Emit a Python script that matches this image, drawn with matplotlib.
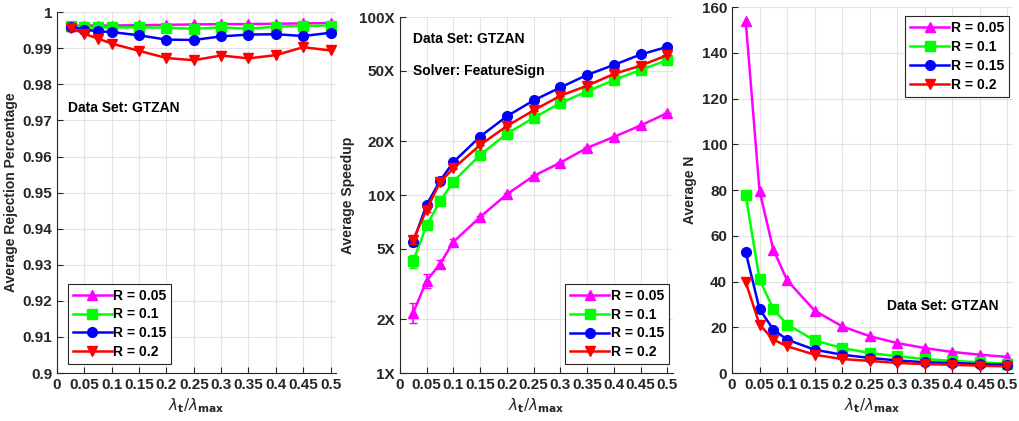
import numpy as np
import matplotlib
matplotlib.use("Agg")
import matplotlib.pyplot as plt

plt.rcParams['font.family'] = ['Liberation Sans', 'DejaVu Sans']
plt.rcParams['axes.labelweight'] = 'bold'
plt.rcParams['mathtext.fontset'] = 'dejavusans'

lam = [0.025, 0.05, 0.075, 0.1, 0.15, 0.2, 0.25, 0.3, 0.35, 0.4, 0.45, 0.5]
radios = ["R = 0.05", "R = 0.1", "R = 0.15", "R = 0.2"]
colores = ["#ff00ff", "#00ff00", "#0000ff", "#ff0000"]
marcadores = ["^", "s", "o", "v"]

# panel 1: rechazo promedio
rechazo_005 = [0.9962, 0.9963, 0.9963, 0.9963, 0.9964, 0.9965, 0.9966, 0.9967, 0.9967, 0.9968, 0.9969, 0.9970]
rechazo_01 = [0.9961, 0.9958, 0.9958, 0.9958, 0.9958, 0.9957, 0.9954, 0.9958, 0.9954, 0.9960, 0.9962, 0.9963]
rechazo_015 = [0.9959, 0.9952, 0.9947, 0.9945, 0.9936, 0.9924, 0.9923, 0.9933, 0.9938, 0.9939, 0.9934, 0.9943]
rechazo_02 = [0.9957, 0.9940, 0.9927, 0.9913, 0.9893, 0.9873, 0.9867, 0.9880, 0.9872, 0.9881, 0.9903, 0.9894]

# panel 2: aceleracion promedio
acel_005 = [2.18, 3.30, 4.09, 5.45, 7.52, 10.1, 12.8, 15.2, 18.4, 21.2, 24.6, 28.9]
acel_01 = [4.25, 6.76, 9.2, 11.9, 16.8, 22.1, 27.1, 32.9, 38.2, 44.3, 50.4, 57.3]
acel_015 = [5.45, 8.8, 12.0, 15.3, 21.3, 27.7, 34.0, 40.2, 47.3, 53.8, 61.6, 68.0]
acel_02 = [5.62, 8.27, 11.8, 14.1, 19.1, 24.4, 29.9, 36.1, 41.1, 47.9, 53.3, 61.1]
err_005 = [0.28, 0.30, 0.22, 0.20, 0.15, 0.12, 0.1, 0.1, 0.1, 0.1, 0.1, 0.1]
err_01 = [0.35, 0.25, 0.2, 0.15, 0.1, 0.1, 0.1, 0.1, 0.1, 0.1, 0.1, 0.1]
err_015 = [0.3, 0.2, 0.15, 0.1, 0.1, 0.1, 0.1, 0.1, 0.1, 0.1, 0.1, 0.1]
err_02 = [0.3, 0.2, 0.15, 0.1, 0.1, 0.1, 0.1, 0.1, 0.1, 0.1, 0.1, 0.1]

# panel 3: N promedio
n_005 = [153.9, 79.7, 54.0, 40.6, 27.3, 20.4, 16.1, 13.1, 10.9, 9.2, 8.0, 7.0]
n_01 = [77.8, 40.9, 28.0, 21.2, 14.3, 10.9, 8.8, 7.3, 6.1, 5.3, 4.7, 4.1]
n_015 = [52.8, 28.0, 19.0, 14.6, 10.2, 8.0, 6.6, 5.5, 4.7, 4.4, 3.9, 3.6]
n_02 = [39.7, 21.2, 14.6, 11.7, 8.0, 6.1, 5.3, 4.4, 3.9, 3.6, 3.2, 2.9]

xticks = [0, 0.05, 0.1, 0.15, 0.2, 0.25, 0.3, 0.35, 0.4, 0.45, 0.5]
xticklabels = ["0", "0.05", "0.1", "0.15", "0.2", "0.25", "0.3", "0.35", "0.4", "0.45", "0.5"]
gris = "#262626"
xlabel = r"$\lambda_{\mathbf{t}}/\lambda_{\mathbf{max}}$"

fig = plt.figure(figsize=(10.2, 4.21), dpi=100)
ax1 = fig.add_axes([0.0559, 0.114, 0.2735, 0.857])
ax2 = fig.add_axes([0.392, 0.114, 0.2676, 0.8456])
ax3 = fig.add_axes([0.7176, 0.114, 0.2755, 0.869])


def estilo(ax):
    ax.set_xlim(0, 0.51)
    ax.set_xticks(xticks)
    ax.set_xticklabels(xticklabels)
    ax.grid(True, color="#e3e3e3", linewidth=0.8)
    ax.set_axisbelow(True)
    for lado in ["top", "right"]:
        ax.spines[lado].set_visible(False)
    for lado in ["left", "bottom"]:
        ax.spines[lado].set_color(gris)
        ax.spines[lado].set_linewidth(0.8)
    ax.tick_params(direction="in", colors=gris, labelsize=11, length=4, width=0.8)
    for t in ax.get_xticklabels() + ax.get_yticklabels():
        t.set_fontweight("bold")
    ax.set_xlabel(xlabel, fontsize=11, color=gris, labelpad=3, fontweight="normal")


def leyenda(ax, loc, bbox):
    ley = ax.legend(loc=loc, bbox_to_anchor=bbox, fontsize=10, handlelength=2.8,
                    handletextpad=0.1, borderpad=0.35, labelspacing=0.35,
                    fancybox=False, framealpha=1, edgecolor="#262626", borderaxespad=0)
    ley.get_frame().set_linewidth(0.8)
    for t in ley.get_texts():
        t.set_fontweight("bold")


# panel 1
for serie, c, m, r in zip([rechazo_005, rechazo_01, rechazo_015, rechazo_02], colores, marcadores, radios):
    ax1.plot(lam, serie, color=c, marker=m, markersize=7, linewidth=1.8, label=r)
ax1.set_ylim(0.9, 1.0)
ax1.set_yticks(np.arange(0.9, 1.001, 0.01))
ax1.set_yticklabels(["0.9", "0.91", "0.92", "0.93", "0.94", "0.95", "0.96", "0.97", "0.98", "0.99", "1"])
estilo(ax1)
ax1.set_ylabel("Average Rejection Percentage", fontsize=10, color=gris, labelpad=3)
ax1.text(0.02, 0.9735, "Data Set: GTZAN", fontsize=10, fontweight="bold", color="black", va="center")
leyenda(ax1, "lower left", (0.04, 0.025))

# panel 2
for serie, err, c, m, r in zip([acel_005, acel_01, acel_015, acel_02], [err_005, err_01, err_015, err_02],
                               colores, marcadores, radios):
    ax2.errorbar(lam, serie, yerr=err, color=c, fmt="none", capsize=3, elinewidth=1.2)
    ax2.plot(lam, serie, color=c, marker=m, markersize=7, linewidth=1.8, label=r)
ax2.set_yscale("log")
ax2.set_ylim(1, 100)
ax2.set_yticks([1, 2, 5, 10, 20, 50, 100])
ax2.set_yticklabels(["1X", "2X", "5X", "10X", "20X", "50X", "100X"])
ax2.yaxis.set_minor_locator(matplotlib.ticker.NullLocator())
estilo(ax2)
ax2.set_ylabel("Average Speedup", fontsize=10, color=gris, labelpad=3)
ax2.text(0.025, 75, "Data Set: GTZAN", fontsize=10, fontweight="bold", color="black", va="center")
ax2.text(0.025, 50, "Solver: FeatureSign", fontsize=10, fontweight="bold", color="black", va="center")
leyenda(ax2, "lower right", (0.985, 0.025))

# panel 3
for serie, c, m, r in zip([n_005, n_01, n_015, n_02], colores, marcadores, radios):
    ax3.plot(lam, serie, color=c, marker=m, markersize=7, linewidth=1.8, label=r)
ax3.set_ylim(0, 160)
ax3.set_yticks(np.arange(0, 161, 20))
estilo(ax3)
ax3.set_ylabel("Average N", fontsize=10, color=gris, labelpad=3)
ax3.text(0.282, 29.5, "Data Set: GTZAN", fontsize=10, fontweight="bold", color="black", va="center")
leyenda(ax3, "upper right", (0.985, 0.975))

fig.savefig("out.png", dpi=100)
